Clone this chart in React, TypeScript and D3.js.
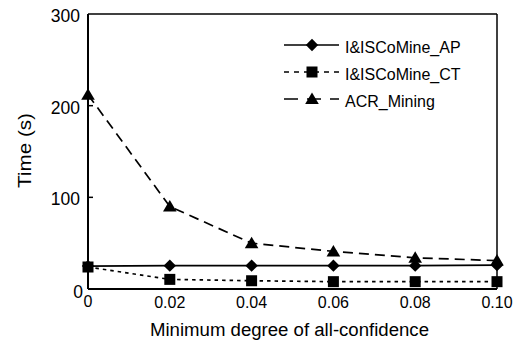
import React from "react";
import * as d3 from "d3";

const xValues = [0, 0.02, 0.04, 0.06, 0.08, 0.1];
const xTickLabels = ["0", "0.02", "0.04", "0.06", "0.08", "0.10"];
const yTicks = [0, 100, 200, 300];
const apValues = [25, 25.5, 25.5, 25.5, 25.5, 26];
const ctValues = [24, 10.5, 9, 8, 8, 8];
const acrValues = [212, 90, 50, 41, 34, 31];
const seriesNames = ["I&ISCoMine_AP", "I&ISCoMine_CT", "ACR_Mining"];

const W = 518, H = 340;
const M = { left: 88, right: 497, top: 14, bottom: 289 };

function marker(kind: string, cx: number, cy: number, key: string) {
  if (kind === "diamond") {
    const s = 6.2;
    return <path key={key} d={`M${cx},${cy - s}L${cx + s},${cy}L${cx},${cy + s}L${cx - s},${cy}Z`} fill="#000" />;
  }
  if (kind === "square") {
    const s = 5.5;
    return <rect key={key} x={cx - s} y={cy - s} width={2 * s} height={2 * s} fill="#000" />;
  }
  return <path key={key} d={`M${cx},${cy - 6.5}L${cx + 6.8},${cy + 5}L${cx - 6.8},${cy + 5}Z`} fill="#000" />;
}

export default function App() {
  const x = d3.scaleLinear().domain([0, 0.1]).range([M.left, M.right]);
  const y = d3.scaleLinear().domain([0, 300]).range([M.bottom, M.top]);
  const line = d3.line<number>().x((_, i) => x(xValues[i])).y((d) => y(d));
  const series = [
    { name: seriesNames[0], values: apValues, dash: "none", kind: "diamond", w: 1.7 },
    { name: seriesNames[1], values: ctValues, dash: "3.5,4", kind: "square", w: 1.7 },
    { name: seriesNames[2], values: acrValues, dash: "10,6", kind: "triangle", w: 1.7 },
  ];
  const font = "Liberation Sans, Arial, sans-serif";
  return (
    <svg width={W} height={H} style={{ position: "absolute", left: 0, top: 0 }} fontFamily={font}>
      <rect width={W} height={H} fill="#fff" />
      {series.map((s) => (
        <path key={s.name} d={line(s.values) || ""} fill="none" stroke="#000" strokeWidth={s.w} strokeDasharray={s.dash} />
      ))}
      {/* frame */}
      <line x1={M.left} x2={M.right} y1={M.top} y2={M.top} stroke="#000" strokeWidth={1.5} />
      <line x1={M.right} x2={M.right} y1={M.top} y2={M.bottom} stroke="#000" strokeWidth={1.5} />
      <line x1={M.left} x2={M.left} y1={M.top} y2={M.bottom} stroke="#000" strokeWidth={2} />
      <line x1={M.left} x2={M.right} y1={M.bottom} y2={M.bottom} stroke="#000" strokeWidth={2} />
      {yTicks.map((t) => (
        <g key={t}>
          {t > 0 && t < 300 ? <line x1={M.left} x2={M.left + 5} y1={y(t)} y2={y(t)} stroke="#000" strokeWidth={1.5} /> : null}
          <text x={t === 0 ? 83 : 80} y={t === 0 ? 298 : y(t) + 8} textAnchor="end" fontSize={17.5}>{t}</text>
        </g>
      ))}
      {xValues.map((v, i) => (
        <text key={v} x={x(v)} y={i === 0 ? 307 : 308} textAnchor="middle" fontSize={16}>{xTickLabels[i]}</text>
      ))}
      {series.map((s) => s.values.map((v, i) => marker(s.kind, x(xValues[i]), y(v), s.name + i)))}
      {series.map((s, i) => {
        const ly = 45 + i * 27;
        return (
          <g key={s.name}>
            <line x1={284} x2={339} y1={ly} y2={ly} stroke="#000" strokeWidth={1.7} strokeDasharray={s.kind === "square" ? "5,5" : s.kind === "triangle" ? "14,9" : "none"} />
            {marker(s.kind, 312, ly, "lg" + i)}
            <text x={345} y={ly + 8} fontSize={16}>{s.name}</text>
          </g>
        );
      })}
      <text transform={`translate(31,150.5) rotate(-90)`} textAnchor="middle" fontSize={18} textLength={75} lengthAdjust="spacingAndGlyphs">Time (s)</text>
      <text x={289.5} y={336} textAnchor="middle" fontSize={18} textLength={279} lengthAdjust="spacingAndGlyphs">Minimum degree of all-confidence</text>
    </svg>
  );
}
